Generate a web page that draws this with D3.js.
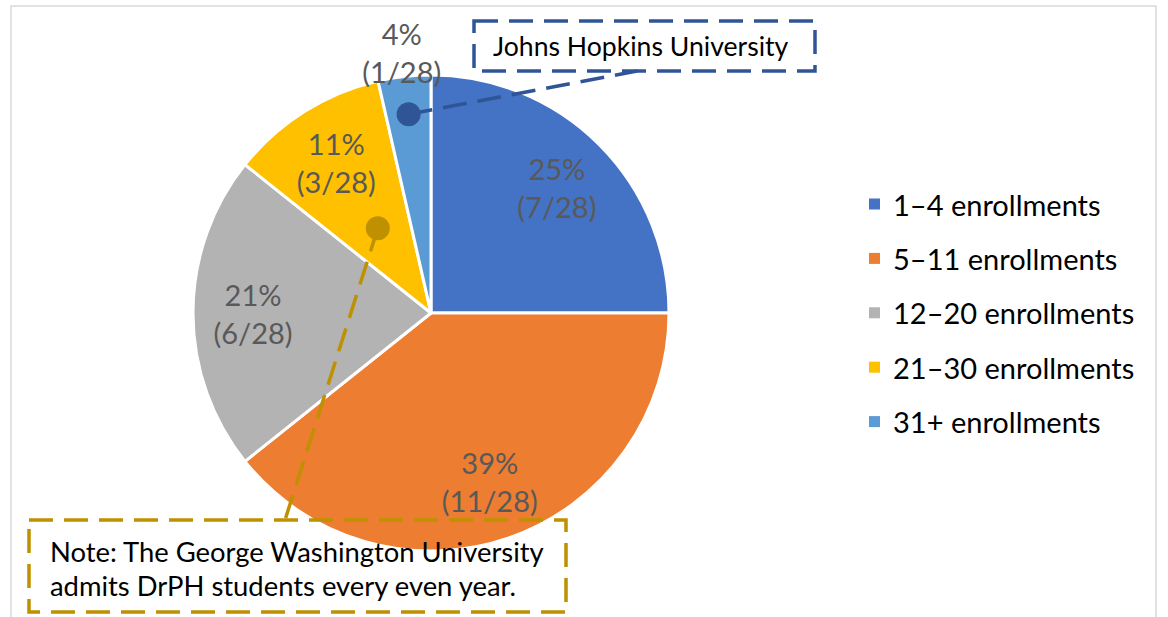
<!DOCTYPE html>
<html>
<head>
<meta charset="utf-8">
<script src="https://cdn.jsdelivr.net/npm/d3@7"></script>
<style>
  body { margin: 0; background: #fff; }
  text { font-family: Lato, "Open Sans", sans-serif; }
</style>
</head>
<body>
<div id="container"></div>
<script>
/** DATA */
const categories = ["1–4 enrollments", "5–11 enrollments", "12–20 enrollments", "21–30 enrollments", "31+ enrollments"];
const counts = [7, 11, 6, 3, 1];
const sliceColors = ["#4472C4", "#ED7D31", "#B3B3B3", "#FFC000", "#5B9BD5"];
const hopkinsNote = ["Johns Hopkins University"];
const gwNote = ["Note: The George Washington University", "admits DrPH students every even year."];

/** CONSTANTS */
const width = 1168,
  height = 617;
const cx = 431, cy = 313, radius = 238;
const total = d3.sum(counts);

const svg = d3.select("#container")
  .append("svg")
  .attr("width", width)
  .attr("height", height);

// light frame round the chart area
svg.append("path")
  .attr("d", `M11,617 V6 H1156 V617`)
  .attr("fill", "none")
  .attr("stroke", "#D9D9D9")
  .attr("stroke-width", 1.5);

const color = d3.scaleOrdinal().domain(categories).range(sliceColors);

const pieGen = d3.pie().sort(null).value(d => d.count);
const slices = pieGen(categories.map((c, i) => ({ name: c, count: counts[i] })));

const arcGen = d3.arc().innerRadius(0).outerRadius(radius);
const ringAt = r => d3.arc().innerRadius(r).outerRadius(r);

const g = svg.append("g").attr("transform", `translate(${cx},${cy})`);

g.selectAll(".slice")
  .data(slices)
  .join("path")
  .attr("class", "slice")
  .attr("d", arcGen)
  .attr("fill", d => color(d.data.name))
  .attr("stroke", "#fff")
  .attr("stroke-width", 3)
  .attr("stroke-linejoin", "round");

// data labels: inside for big slices, outside for the tiny one
const labelPos = d => d.data.count / total < 0.05
  ? ringAt(radius + 24).centroid(d)
  : ringAt(178).centroid(d);

const labels = g.selectAll(".lbl")
  .data(slices)
  .join("text")
  .attr("class", "lbl")
  .attr("text-anchor", "middle")
  .attr("fill", "#595959")
  .style("font-size", "29px");

labels.append("tspan")
  .attr("x", d => labelPos(d)[0])
  .attr("y", d => labelPos(d)[1] - 19)
  .attr("dominant-baseline", "central")
  .text(d => Math.round(d.data.count / total * 100) + "%");
labels.append("tspan")
  .attr("x", d => labelPos(d)[0])
  .attr("y", d => labelPos(d)[1] + 19)
  .attr("dominant-baseline", "central")
  .text(d => `(${d.data.count}/${total})`);

/** CALLOUTS */
function callout(slice, dotR, box, lineEnd, lines, stroke, fontSize) {
  const p = ringAt(dotR).centroid(slice);
  const dot = [cx + p[0], cy + p[1]];
  svg.append("line")
    .attr("x1", dot[0]).attr("y1", dot[1])
    .attr("x2", lineEnd[0]).attr("y2", lineEnd[1])
    .attr("stroke", stroke)
    .attr("stroke-width", 3.5)
    .attr("stroke-dasharray", "24 11");
  svg.append("circle")
    .attr("cx", dot[0]).attr("cy", dot[1])
    .attr("r", 12)
    .attr("fill", stroke);
  svg.append("rect")
    .attr("x", box.x).attr("y", box.y)
    .attr("width", box.w).attr("height", box.h)
    .attr("fill", "none")
    .attr("stroke", stroke)
    .attr("stroke-width", 3.5)
    .attr("stroke-dasharray", "24 11");
  svg.append("g")
    .selectAll("text")
    .data(lines)
    .join("text")
    .attr("x", box.x + box.tx)
    .attr("y", (d, i) => box.y + box.ty + i * 34)
    .attr("dominant-baseline", "central")
    .attr("fill", "#000")
    .style("font-size", fontSize)
    .text(d => d);
}

callout(slices[4], 200, { x: 474, y: 21, w: 341, h: 50, tx: 19, ty: 25 }, [637, 71], hopkinsNote, "#2F5597", "26.6px");
callout(slices[3], 100, { x: 29, y: 520, w: 537, h: 92, tx: 21, ty: 31 }, [285, 520], gwNote, "#BF9000", "27.4px");

/** LEGEND */
const legend = svg.append("g")
  .selectAll("g")
  .data(categories)
  .join("g")
  .attr("transform", (d, i) => `translate(869,${204 + i * 54.4})`);

legend.append("rect")
  .attr("x", 0).attr("y", -5.5)
  .attr("width", 11).attr("height", 11)
  .attr("fill", d => color(d));

legend.append("text")
  .attr("x", 24)
  .attr("y", 0)
  .attr("dominant-baseline", "central")
  .attr("fill", "#000")
  .style("font-size", "29px")
  .text(d => d);
</script>
</body>
</html>
